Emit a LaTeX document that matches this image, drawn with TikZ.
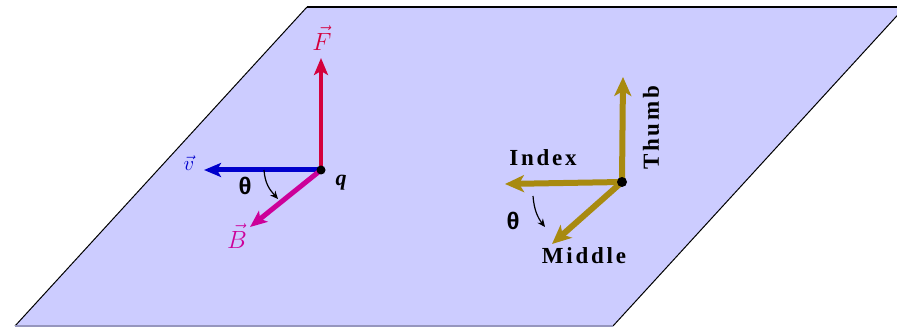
\documentclass[tikz,border=0pt]{standalone}
\usepackage{fontspec}
\setmainfont{Liberation Serif}
\newfontfamily\lsans{Liberation Sans}
\usetikzlibrary{arrows.meta}
\definecolor{plane}{RGB}{204,204,255}
\definecolor{planeedge}{RGB}{150,150,190}
\definecolor{fred}{RGB}{212,0,60}
\definecolor{vblue}{RGB}{0,0,204}
\definecolor{bmag}{RGB}{204,0,153}
\definecolor{gold}{RGB}{168,138,16}
\tikzset{
  vecarrow/.style={line width=#1, -{Stealth[length=17pt,width=14pt,inset=4pt]}},
  handarrow/.style={line width=6pt, draw=gold, -{Stealth[length=19pt,width=17pt,inset=5pt]}},
  anglearrow/.style={line width=1.2pt, -{Stealth[length=8pt,width=7pt]}},
  handlabel/.style={font=\fontsize{23}{23}\selectfont\bfseries\addfontfeature{LetterSpace=12}, inner sep=0pt},
  thetalabel/.style={font=\lsans\fontsize{24}{24}\selectfont\bfseries, inner sep=0pt},
  veclabel/.style={font=\fontsize{26}{26}\selectfont, inner sep=0pt},
  dot/.style={circle, fill=black, inner sep=0pt, minimum size=#1}
}
\begin{document}
\begin{tikzpicture}[x=1pt,y=-1pt]
\useasboundingbox (0,0) rectangle (897,328);
\begin{scope}
\clip (0,0) rectangle (897,328);
% plane
\coordinate (tl) at (307,7);
\coordinate (tr) at (905,7);
\coordinate (br) at (613,326);
\coordinate (bl) at (15,326);
\fill[plane] (tl) -- (tr) -- (br) -- (bl) -- cycle;
\draw[line width=2.5pt] (tl) -- (tr);
\draw[line width=1pt] (tl) -- (bl);
\draw[line width=1pt] (tr) -- (br);
\draw[line width=1.5pt, planeedge] (bl) -- (br);
\end{scope}

% left diagram
\coordinate (qc) at (321,170);
\coordinate (ftip) at (321,58);
\coordinate (vtip) at (204,170);
\coordinate (btip) at (250,227);
\draw[vecarrow=3.5pt, fred] (qc) -- (ftip);
\draw[vecarrow=5pt, vblue] (qc) -- (vtip);
\draw[vecarrow=5pt, bmag] (qc) -- (btip);
\node[dot=9pt] (q) at (qc) {};
\node[veclabel, fred] (flab) at (322,38) {$\vec{F}$};
\node[veclabel, vblue, font=\fontsize{20}{20}\selectfont] (vlab) at (189,163) {$\vec{v}$};
\node[veclabel, bmag] (blab) at (237,236) {$\vec{B}$};
\node[font=\fontsize{22}{22}\selectfont\bfseries\itshape, inner sep=0pt] (qlab) at (341,183) {q};
\node[thetalabel] (th1) at (245,186) {θ};
\coordinate (a1s) at (264,170);
\coordinate (a1e) at (278,199);
\draw[anglearrow] (a1s) .. controls (265,184) and (270,190) .. (a1e);

% right diagram
\coordinate (oc) at (622,182);
\coordinate (ttip) at (623,77);
\coordinate (itip) at (505,184);
\coordinate (mtip) at (552,244);
\draw[handarrow] (oc) -- (ttip);
\draw[handarrow] (oc) -- (itip);
\draw[handarrow] (oc) -- (mtip);
\node[dot=10pt] (o) at (oc) {};
\node[handlabel] (index) at (543,158) {Index};
\node[handlabel, rotate=90] (thumb) at (651,128) {Thumb};
\node[handlabel] (middle) at (584,256) {Middle};
\node[thetalabel] (th2) at (513,221) {θ};
\coordinate (a2s) at (533,196);
\coordinate (a2e) at (545,227);
\draw[anglearrow] (a2s) .. controls (534,210) and (538,218) .. (a2e);
\end{tikzpicture}
\end{document}
